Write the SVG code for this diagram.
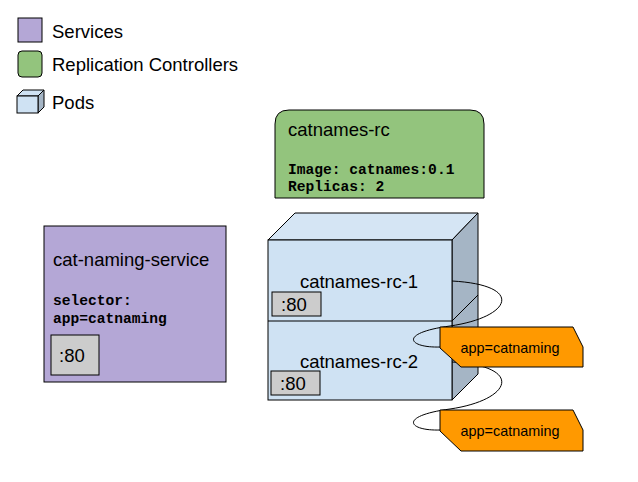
<svg xmlns="http://www.w3.org/2000/svg" width="638" height="482" viewBox="0 0 638 482">
<style>
.sans{font-family:"Liberation Sans",Arial,sans-serif;fill:#000}
.big{font-size:18.5px}
.mono{font-family:"Liberation Mono","Courier New",monospace;font-weight:bold;fill:#000;font-size:14.6px}
.stroke{stroke:#000;stroke-width:1}
.port{fill:#cccccc;stroke:#000;stroke-width:1}
.label{fill:#ff9900;stroke:#000;stroke-width:1}
.link{fill:none;stroke:#000;stroke-width:1}
</style>
<rect width="638" height="482" fill="#fff"/>
<g id="legend">
  <rect x="18" y="18" width="24" height="24" fill="#b4a7d6" class="stroke"/>
  <text x="52" y="38" class="sans big">Services</text>
  <rect x="18" y="51" width="24" height="26" rx="4" fill="#93c47d" class="stroke"/>
  <text x="52" y="71" class="sans big">Replication Controllers</text>
  <polygon points="17,96 23,90 44,90 38,96" fill="#cfe2f3" class="stroke"/>
  <polygon points="38,96 44,90 44,107 38,113" fill="#a5b5c5" class="stroke"/>
  <rect x="17" y="96" width="21" height="17" fill="#cfe2f3" class="stroke"/>
  <text x="52" y="109" class="sans big">Pods</text>
</g>
<g id="catnames-rc">
  <path d="M275,198 V124 Q275,110 289,110 H470 Q484,110 484,124 V198 Z" fill="#93c47d" class="stroke"/>
  <text x="288" y="136" class="sans big">catnames-rc</text>
  <text x="288" y="174" class="mono">Image: catnames:0.1</text>
  <text x="288" y="191" class="mono">Replicas: 2</text>
</g>
<g id="cat-naming-service">
  <rect x="44" y="226" width="182" height="156" fill="#b4a7d6" class="stroke"/>
  <text x="53" y="266" class="sans big">cat-naming-service</text>
  <text x="53" y="305" class="mono">selector:</text>
  <text x="53" y="323" class="mono">app=catnaming</text>
  <rect x="51" y="335" width="48" height="40" class="port"/>
  <text x="59" y="362" class="sans big">:80</text>
</g>
<g id="pods">
  <polygon points="268,240 295,213 478,213 452,240" fill="#d5e5f4" class="stroke"/>
  <polygon points="452,240 478,213 478,374 452,400" fill="#a5b5c5" class="stroke"/>
  <line x1="452" y1="321" x2="478" y2="295" class="stroke"/>
  <rect x="268" y="240" width="184" height="160" fill="#cfe2f3" class="stroke"/>
  <line x1="268" y1="321" x2="452" y2="321" class="stroke"/>
  <g id="catnames-rc-1">
    <text x="359" y="288" class="sans big" text-anchor="middle">catnames-rc-1</text>
    <rect x="272" y="292" width="49" height="24" class="port"/>
    <text x="281" y="311" class="sans big">:80</text>
  </g>
  <g id="catnames-rc-2">
    <text x="359" y="368" class="sans big" text-anchor="middle">catnames-rc-2</text>
    <rect x="271" y="371" width="49" height="24" class="port"/>
    <text x="280" y="390" class="sans big">:80</text>
  </g>
</g>
<g id="connectors">
  <path d="M452,281 C525,285 512,317 450,326 C398,333 408,348 440,347" class="link"/>
  <path d="M452,362 C525,366 512,400 450,409 C398,416 408,431 440,430" class="link"/>
</g>
<g id="label-1">
  <polygon points="440,327 573,327 583,347 583,367 461,367 440,348" class="label"/>
  <text x="510" y="353" class="sans" font-size="14.4" text-anchor="middle">app=catnaming</text>
</g>
<g id="label-2">
  <polygon points="440,410 573,410 583,430 583,451 461,451 440,431" class="label"/>
  <text x="510" y="436" class="sans" font-size="14.4" text-anchor="middle">app=catnaming</text>
</g>
</svg>
